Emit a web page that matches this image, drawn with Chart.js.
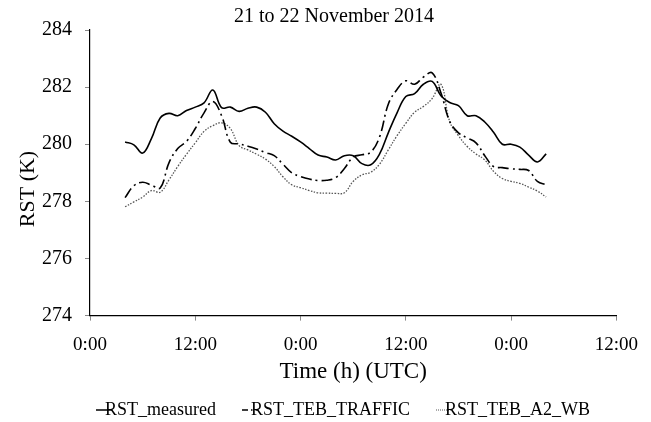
<!DOCTYPE html>
<html>
<head>
<meta charset="utf-8">
<script src="https://cdn.jsdelivr.net/npm/chart.js@4/dist/chart.umd.min.js"></script>
<style>
  html, body { margin: 0; padding: 0; background: #fff; }
  #wrap { width: 651px; height: 422px; }
</style>
</head>
<body>
<div id="wrap"><canvas id="rstChart"></canvas></div>
<script>
// hours since 0:00 on 21 November (UTC)
const hours = [4, 5, 6, 7, 8, 9, 10, 11, 12, 13, 14, 15, 16, 17, 18, 19, 20, 21, 22, 23,
  24, 25, 26, 27, 28, 29, 30, 31, 32, 33, 34, 35, 36, 37, 38, 39, 40, 41, 42, 43,
  44, 45, 46, 47, 48, 49, 50, 51, 52];

const rstMeasured = [280.08, 279.98, 279.69, 280.2, 280.92, 281.08, 281.0, 281.18, 281.3, 281.45,
  281.9, 281.28, 281.3, 281.15, 281.26, 281.3, 281.12, 280.72, 280.46, 280.28,
  280.08, 279.85, 279.62, 279.55, 279.45, 279.6, 279.6, 279.32, 279.28, 279.65,
  280.4, 281.1, 281.67, 281.77, 282.1, 282.2, 281.7, 281.46, 281.35, 281.0,
  281.0, 280.78, 280.42, 280.0, 280.0, 279.9, 279.62, 279.38, 279.66];

const rstTraffic = [278.13, 278.55, 278.67, 278.57, 278.47, 279.35, 279.85, 280.1, 280.55, 281.1,
  281.5, 281.0, 280.07, 280.01, 279.93, 279.83, 279.71, 279.6, 279.3, 279.0,
  278.87, 278.78, 278.73, 278.74, 278.83, 279.15, 279.55, 279.63, 279.72, 280.25,
  281.4, 281.92, 282.22, 282.1, 282.35, 282.5, 281.8, 280.8, 280.4, 280.22,
  280.05, 279.6, 279.22, 279.18, 279.14, 279.12, 279.08, 278.7, 278.58];

const rstA2WB = [277.81, 277.98, 278.15, 278.38, 278.32, 278.75, 279.22, 279.65, 280.05, 280.45,
  280.65, 280.75, 280.55, 279.95, 279.8, 279.65, 279.48, 279.22, 278.86, 278.58,
  278.48, 278.38, 278.3, 278.29, 278.28, 278.3, 278.7, 278.93, 279.02, 279.3,
  279.8, 280.3, 280.73, 281.12, 281.32, 281.6, 282.1, 280.8, 280.3, 279.92,
  279.66, 279.45, 279.05, 278.8, 278.7, 278.63, 278.5, 278.36, 278.15];

const serif = "'Liberation Serif', 'Times New Roman', serif";

function pts(vals) {
  return hours.map((h, i) => ({ x: h, y: vals[i] }));
}

// little legend samples; the line sits on the right part so it touches the text
function sample(color, width, dash) {
  const c = document.createElement("canvas");
  c.width = 56;
  c.height = 6;
  const g = c.getContext("2d");
  g.strokeStyle = color;
  g.lineWidth = width;
  g.setLineDash(dash);
  g.beginPath();
  g.moveTo(37, 3);
  g.lineTo(53, 3);
  g.stroke();
  return c;
}

// y axis title drawn by hand so it can sit where the original has it
const yTitle = {
  id: "yTitle",
  afterDraw(chart) {
    const ctx = chart.ctx;
    ctx.save();
    ctx.translate(28, 189);
    ctx.rotate(-Math.PI / 2);
    ctx.font = "22px " + serif;
    ctx.fillStyle = "#000";
    ctx.textAlign = "center";
    ctx.textBaseline = "middle";
    ctx.fillText("RST (K)", 0, 0);
    ctx.restore();
  }
};

new Chart(document.getElementById("rstChart"), {
  type: "line",
  data: {
    datasets: [
      {
        label: "RST_measured",
        data: pts(rstMeasured),
        borderColor: "#000",
        borderWidth: 1.6,
        pointRadius: 0,
        pointStyle: sample("#000", 1.5, []),
        tension: 0.4
      },
      {
        label: "RST_TEB_TRAFFIC",
        data: pts(rstTraffic),
        borderColor: "#000",
        borderWidth: 1.6,
        borderDash: [11, 4, 2, 4],
        pointRadius: 0,
        pointStyle: sample("#000", 1.3, [6, 3, 1.5, 3]),
        tension: 0.4
      },
      {
        label: "RST_TEB_A2_WB",
        data: pts(rstA2WB),
        borderColor: "#555",
        borderWidth: 1.3,
        borderDash: [1.5, 1.5],
        pointRadius: 0,
        pointStyle: sample("#555", 1, [1, 1]),
        tension: 0.4
      }
    ]
  },
  plugins: [yTitle],
  options: {
    responsive: true,
    maintainAspectRatio: false,
    animation: false,
    layout: { padding: { left: 29, right: 12, top: 0, bottom: -7 } },
    plugins: {
      title: {
        display: true,
        text: "21 to 22 November 2014",
        color: "#000",
        font: { family: serif, size: 20, weight: "normal" },
        padding: { top: 5, bottom: 1 }
      },
      legend: {
        position: "bottom",
        labels: {
          color: "#000",
          font: { family: serif, size: 18 },
          usePointStyle: true,
          boxWidth: 32,
          boxHeight: 6,
          padding: 8
        }
      },
      tooltip: { enabled: false }
    },
    scales: {
      x: {
        type: "linear",
        min: 0,
        max: 60,
        ticks: {
          stepSize: 12,
          color: "#000",
          font: { family: serif, size: 19 },
          maxRotation: 0,
          padding: 13,
          callback: v => (v % 24 === 0 ? "0:00" : "12:00")
        },
        grid: { drawOnChartArea: false, drawTicks: true, tickLength: 5, color: "#888" },
        border: { color: "#000", width: 1.2 },
        title: {
          display: true,
          text: "Time (h) (UTC)",
          color: "#000",
          font: { family: serif, size: 23 },
          padding: { top: -11, bottom: 7 }
        }
      },
      y: {
        min: 274,
        max: 284,
        ticks: {
          stepSize: 2,
          color: "#000",
          font: { family: serif, size: 20 },
          padding: 13
        },
        grid: { drawOnChartArea: false, drawTicks: true, tickLength: 5, color: "#888" },
        border: { color: "#000", width: 1.2 }
      }
    }
  }
});
</script>
</body>
</html>
